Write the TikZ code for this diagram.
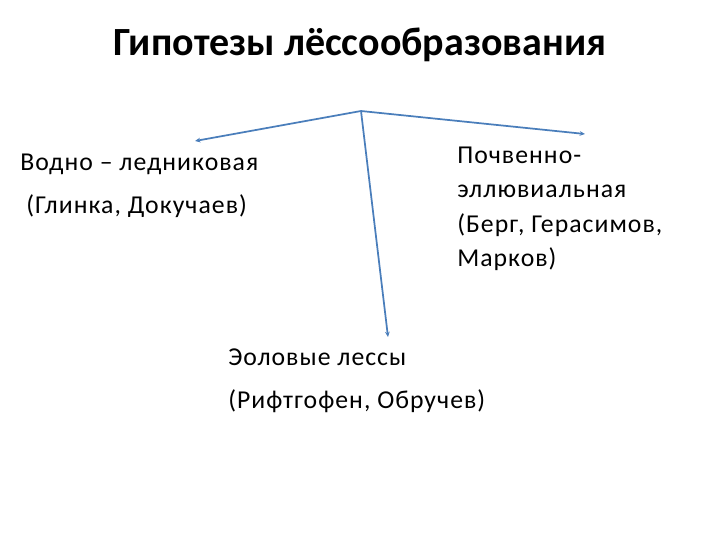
\documentclass[tikz,border=0pt]{standalone}
\usepackage{fontspec}
\setmainfont{Carlito}
\newfontfamily\bodyfont[LetterSpace=4]{Carlito}
\usetikzlibrary{arrows.meta}
\definecolor{linecol}{HTML}{4A7EBB}
\tikzset{
  body/.style={anchor=base west, inner sep=0pt, font=\bodyfont\fontsize{19.3}{23}\selectfont, text=black},
  titletext/.style={anchor=base, inner sep=0pt, font=\fontsize{30}{36}\selectfont\bfseries, text=black},
  branch/.style={draw=linecol, line width=1.3pt, -{Stealth[length=4pt,width=3.5pt]}}
}
\begin{document}
\begin{tikzpicture}[x=0.75pt,y=-0.75pt]
\useasboundingbox (0,0) rectangle (720,540);
\fill[white] (0,0) rectangle (720,540);
\node[titletext] (title) at (360,55) {Гипотезы лёссообразования};
\coordinate (apex) at (361,111);
\coordinate (leftend) at (195,141);
\coordinate (rightend) at (585,134);
\coordinate (downend) at (388,337);
\draw[branch] (apex) -- (leftend);
\draw[branch] (apex) -- (rightend);
\draw[branch] (apex) -- (downend);
\node[body] (l1) at (20,170) {Водно – ледниковая};
\node[body] (l2) at (26,213) {(Глинка, Докучаев)};
\node[body] (r1) at (457,163) {Почвенно-};
\node[body] (r2) at (457,197) {эллювиальная};
\node[body] (r3) at (457,232) {(Берг, Герасимов,};
\node[body] (r4) at (457,266) {Марков)};
\node[body] (b1) at (228,365) {Эоловые лессы};
\node[body] (b2) at (228,408) {(Рифтгофен, Обручев)};
\end{tikzpicture}
\end{document}
